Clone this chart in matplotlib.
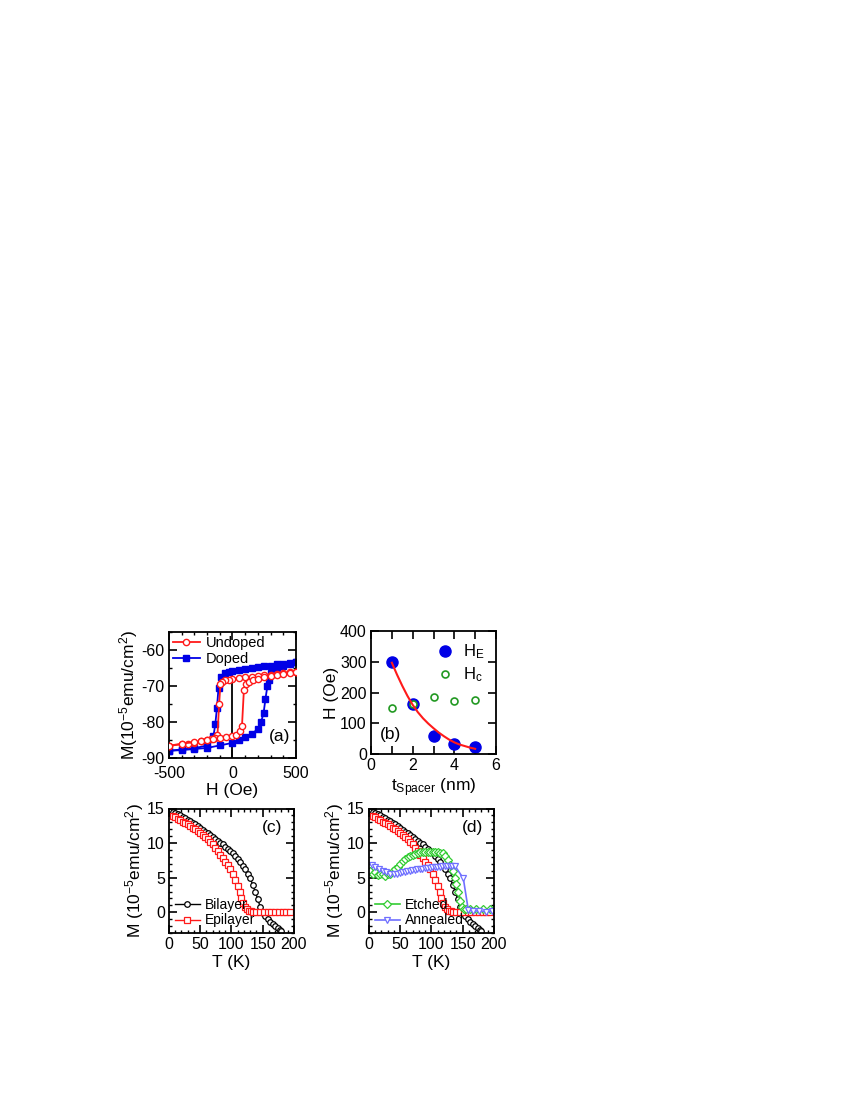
import matplotlib
matplotlib.use("Agg")
import matplotlib.pyplot as plt
from matplotlib.ticker import MultipleLocator

plt.rcParams['font.family'] = ['Liberation Sans', 'DejaVu Sans']
plt.rcParams['mathtext.fontset'] = 'custom'
plt.rcParams['mathtext.rm'] = 'Liberation Sans'
plt.rcParams['mathtext.it'] = 'Liberation Sans:italic'
plt.rcParams['axes.unicode_minus'] = False
plt.rcParams['axes.linewidth'] = 1.3

# (a) hysteresis loops
undoped_dn_h = [500, 450, 400, 350, 300, 250, 200, 150, 100, 50, 0, -30, -60, -80, -95, -105, -118, -140, -170, -200, -250, -300, -350, -400, -500]
undoped_dn_m = [-66.0, -66.2, -66.4, -66.6, -66.8, -67.0, -67.2, -67.4, -67.6, -67.8, -68.0, -68.2, -68.4, -68.8, -69.5, -75.0, -83.5, -84.4, -84.8, -85.0, -85.4, -85.7, -86.0, -86.2, -86.6]
undoped_up_h = [-500, -400, -300, -250, -200, -150, -100, -50, 0, 30, 60, 75, 90, 110, 130, 160, 200, 250, 300, 350, 400, 450, 500]
undoped_up_m = [-86.6, -86.0, -85.6, -85.3, -85.0, -84.8, -84.5, -84.3, -84.0, -83.6, -82.5, -81.0, -71.0, -69.5, -68.8, -68.3, -68.0, -67.6, -67.2, -66.9, -66.6, -66.3, -66.0]
doped_dn_h = [500, 450, 400, 350, 300, 250, 200, 150, 100, 50, 0, -30, -60, -90, -110, -122, -135, -150, -200, -300, -400, -500]
doped_dn_m = [-63.3, -63.6, -63.8, -64.0, -64.3, -64.5, -64.8, -65.0, -65.3, -65.5, -65.8, -66.1, -66.5, -67.5, -70.5, -76.0, -80.5, -84.0, -86.5, -87.3, -87.6, -88.0]
doped_up_h = [-500, -400, -300, -200, -100, 0, 50, 100, 150, 200, 225, 245, 260, 275, 285, 300, 350, 400, 450, 500]
doped_up_m = [-88.0, -87.8, -87.5, -87.2, -86.5, -85.8, -85.0, -84.3, -83.3, -82.0, -80.0, -77.5, -73.5, -70.0, -68.3, -66.5, -65.0, -64.3, -63.8, -63.3]

# (b) exchange bias and coercivity vs spacer thickness
t_spacer = [1, 2, 3, 4, 5]
h_e = [300, 162, 60, 33, 23]
h_c = [150, 162, 187, 174, 175]
fit_t = [1, 1.25, 1.5, 1.75, 2, 2.25, 2.5, 2.75, 3, 3.25, 3.5, 3.75, 4, 4.25, 4.5, 4.75, 5]
fit_h = [297, 258, 222, 189, 160, 136, 116, 99, 84, 70, 58, 47, 38, 31, 26, 21, 17]

# (c), (d) M vs T
bi_t = [6, 10, 14, 18, 22, 26, 30, 34, 38, 42, 46, 50, 54, 58, 62, 66, 70, 74, 78, 82, 86, 90, 94, 98, 102, 106, 110, 114, 118, 122, 126, 130, 134, 138, 142, 146, 150, 154, 158, 162, 166, 170, 174, 177, 180]
bi_m = [14.5, 14.3, 14.15, 14.0, 13.8, 13.6, 13.4, 13.15, 12.9, 12.7, 12.45, 12.2, 11.9, 11.65, 11.4, 11.15, 10.9, 10.6, 10.35, 10.05, 9.8, 9.5, 9.2, 8.9, 8.5, 8.1, 7.7, 7.25, 6.75, 6.2, 5.6, 4.9, 4.0, 3.0, 1.9, 0.8, -0.1, -0.6, -1.0, -1.35, -1.7, -2.0, -2.3, -2.5, -2.75]
epi_t = [6, 10, 14, 18, 22, 26, 30, 34, 38, 42, 46, 50, 54, 58, 62, 66, 70, 74, 78, 82, 86, 90, 94, 98, 102, 106, 110, 113, 116, 119, 122, 125, 128, 131, 134, 140, 146, 152, 158, 164, 170, 176, 182, 188, 194]
epi_m = [13.9, 13.7, 13.5, 13.3, 13.1, 12.9, 12.7, 12.45, 12.2, 12.0, 11.75, 11.5, 11.2, 10.9, 10.6, 10.2, 9.8, 9.3, 8.8, 8.3, 7.8, 7.3, 6.8, 6.2, 5.5, 4.7, 3.8, 3.0, 2.1, 1.3, 0.7, 0.4, 0.25, 0.15, 0.1, 0.05, 0.05, 0.05, 0.05, 0.05, 0.05, 0.05, 0.05, 0.05, 0.05]
etch_t = [2, 6, 10, 14, 18, 22, 26, 30, 34, 38, 42, 46, 50, 54, 58, 62, 66, 70, 74, 78, 82, 86, 90, 94, 98, 102, 106, 110, 114, 118, 122, 126, 130, 134, 137, 140, 143, 146, 149, 152, 156, 162, 172, 183, 194, 200]
etch_m = [5.9, 5.5, 5.8, 5.4, 5.6, 5.5, 5.3, 5.5, 5.6, 5.9, 6.2, 6.6, 7.0, 7.4, 7.7, 7.95, 8.15, 8.3, 8.45, 8.55, 8.65, 8.7, 8.75, 8.75, 8.75, 8.75, 8.7, 8.65, 8.6, 8.5, 8.2, 7.6, 6.8, 6.0, 5.0, 4.1, 2.9, 1.6, 0.8, 0.45, 0.5, 0.45, 0.5, 0.4, 0.5, 0.45]
ann_t = [5, 10, 16, 22, 28, 34, 40, 45, 49, 53, 57, 61, 65, 69, 73, 77, 81, 85, 89, 93, 97, 101, 105, 109, 113, 117, 121, 125, 129, 133, 138, 151, 159, 167, 176, 187, 197]
ann_m = [6.8, 6.6, 6.2, 5.9, 5.8, 5.6, 5.55, 5.6, 5.7, 5.8, 5.85, 5.95, 6.0, 6.1, 6.15, 6.2, 6.25, 6.3, 6.35, 6.4, 6.45, 6.5, 6.55, 6.6, 6.6, 6.65, 6.7, 6.7, 6.7, 6.7, 6.65, 4.9, 0.3, 0.15, 0.2, 0.1, 0.15]

red = '#ff1a1a'
blue = '#0000e6'
green = '#33cc33'
lav = '#7070ff'


def style_axes(ax):
    ax.tick_params(which='both', direction='in', top=True, right=True, labelsize=11.5)
    ax.tick_params(which='major', length=5.5, width=1.2, pad=3)
    ax.tick_params(which='minor', length=2.5, width=1.0)


fig = plt.figure(figsize=(8.5, 11), dpi=100)

# panel (a)
ax = fig.add_axes([0.1988, 0.3109, 0.1494, 0.1145])
ax.axvline(0, ymin=0, ymax=24 / 35, color='black', lw=1.3, zorder=1)
ax.plot(doped_dn_h, doped_dn_m, '-s', color=blue, ms=4.5, lw=1.3, label='Doped', zorder=2)
ax.plot(doped_up_h, doped_up_m, '-s', color=blue, ms=4.5, lw=1.3, zorder=2)
ax.plot(undoped_dn_h, undoped_dn_m, '-o', color=red, mfc='white', ms=4.5, lw=1.3, label='Undoped', zorder=3)
ax.plot(undoped_up_h, undoped_up_m, '-o', color=red, mfc='white', ms=4.5, lw=1.3, zorder=3)
ax.set_xlim(-500, 500)
ax.set_ylim(-90, -55)
ax.xaxis.set_major_locator(MultipleLocator(500))
ax.xaxis.set_minor_locator(MultipleLocator(100))
ax.yaxis.set_major_locator(MultipleLocator(10))
ax.yaxis.set_minor_locator(MultipleLocator(5))
style_axes(ax)
ax.tick_params(axis='x', which='major', pad=6)
h, l = ax.get_legend_handles_labels()
ax.legend(h[::-1], l[::-1], loc='upper left', frameon=False, fontsize=10.5, handlelength=1.8,
          labelspacing=0.1, borderaxespad=0.1, handletextpad=0.4, borderpad=0.2)
ax.text(370, -84, '(a)', fontsize=12.5, ha='center', va='center')
ax.set_xlabel('H (Oe)', fontsize=12.5, labelpad=1)
ax.set_ylabel('M(10$^{-5}$emu/cm$^{2}$)', fontsize=12.5, labelpad=1)

# panel (b)
ax = fig.add_axes([0.4365, 0.3145, 0.147, 0.1118])
ax.plot(t_spacer, h_e, 'o', color=blue, ms=8, label='H$_{\\rm E}$', zorder=2)
ax.plot(t_spacer, h_c, 'o', color='#229922', mfc='white', mew=1.2, ms=5, label='H$_{\\rm c}$', zorder=3)
ax.plot(fit_t, fit_h, '-', color=red, lw=1.5, zorder=4)
ax.set_xlim(0, 6)
ax.set_ylim(0, 400)
ax.xaxis.set_major_locator(MultipleLocator(2))
ax.xaxis.set_minor_locator(MultipleLocator(1))
ax.yaxis.set_major_locator(MultipleLocator(100))
style_axes(ax)
ax.tick_params(which='minor', length=5.5, width=1.2)
ax.legend(loc='upper right', frameon=False, fontsize=12, handlelength=1.0,
          labelspacing=0.25, borderaxespad=0.3, handletextpad=0.6)
ax.text(0.95, 65, '(b)', fontsize=12.5, ha='center', va='center')
ax.set_xlabel('t$_{\\rm Spacer}$ (nm)', fontsize=12.5, labelpad=2)
ax.set_ylabel('H (Oe)', fontsize=12.5, labelpad=1)

# panels (c) and (d)
for pos, tag in [([0.1988, 0.1518, 0.147, 0.1132], '(c)'), ([0.4341, 0.1518, 0.147, 0.1132], '(d)')]:
    ax = fig.add_axes(pos)
    ax.plot(bi_t, bi_m, '-o', color='black', mfc='white', ms=4, lw=1.0, mew=0.9, label='Bilayer')
    ax.plot(epi_t, epi_m, '-s', color=red, mfc='white', ms=4.5, lw=1.0, mew=0.9, label='Epilayer')
    if tag == '(d)':
        ln1, = ax.plot(etch_t, etch_m, '-D', color=green, mfc='white', ms=4.5, lw=1.2, mew=0.9, label='Etched')
        ln2, = ax.plot(ann_t, ann_m, '-v', color=lav, mfc='white', ms=5, lw=1.2, mew=0.9, label='Annealed')
        ax.legend([ln1, ln2], ['Etched', 'Annealed'], loc='lower left', frameon=False, fontsize=10,
                  handlelength=1.8, labelspacing=0.1, borderaxespad=0.1, handletextpad=0.4, borderpad=0.3)
    else:
        ax.legend(loc='lower left', frameon=False, fontsize=10, handlelength=1.8,
                  labelspacing=0.1, borderaxespad=0.1, handletextpad=0.4, borderpad=0.3)
    ax.set_xlim(0, 200)
    ax.set_ylim(-3, 15)
    ax.xaxis.set_major_locator(MultipleLocator(50))
    ax.xaxis.set_minor_locator(MultipleLocator(10))
    ax.yaxis.set_major_locator(MultipleLocator(5))
    ax.yaxis.set_minor_locator(MultipleLocator(1))
    style_axes(ax)
    ax.text(165, 12.2, tag, fontsize=12.5, ha='center', va='center')
    ax.set_xlabel('T (K)', fontsize=12.5, labelpad=2)
    ax.set_ylabel('M (10$^{-5}$emu/cm$^{2}$)', fontsize=12.5, labelpad=1)

fig.savefig('out.png', dpi=100)
